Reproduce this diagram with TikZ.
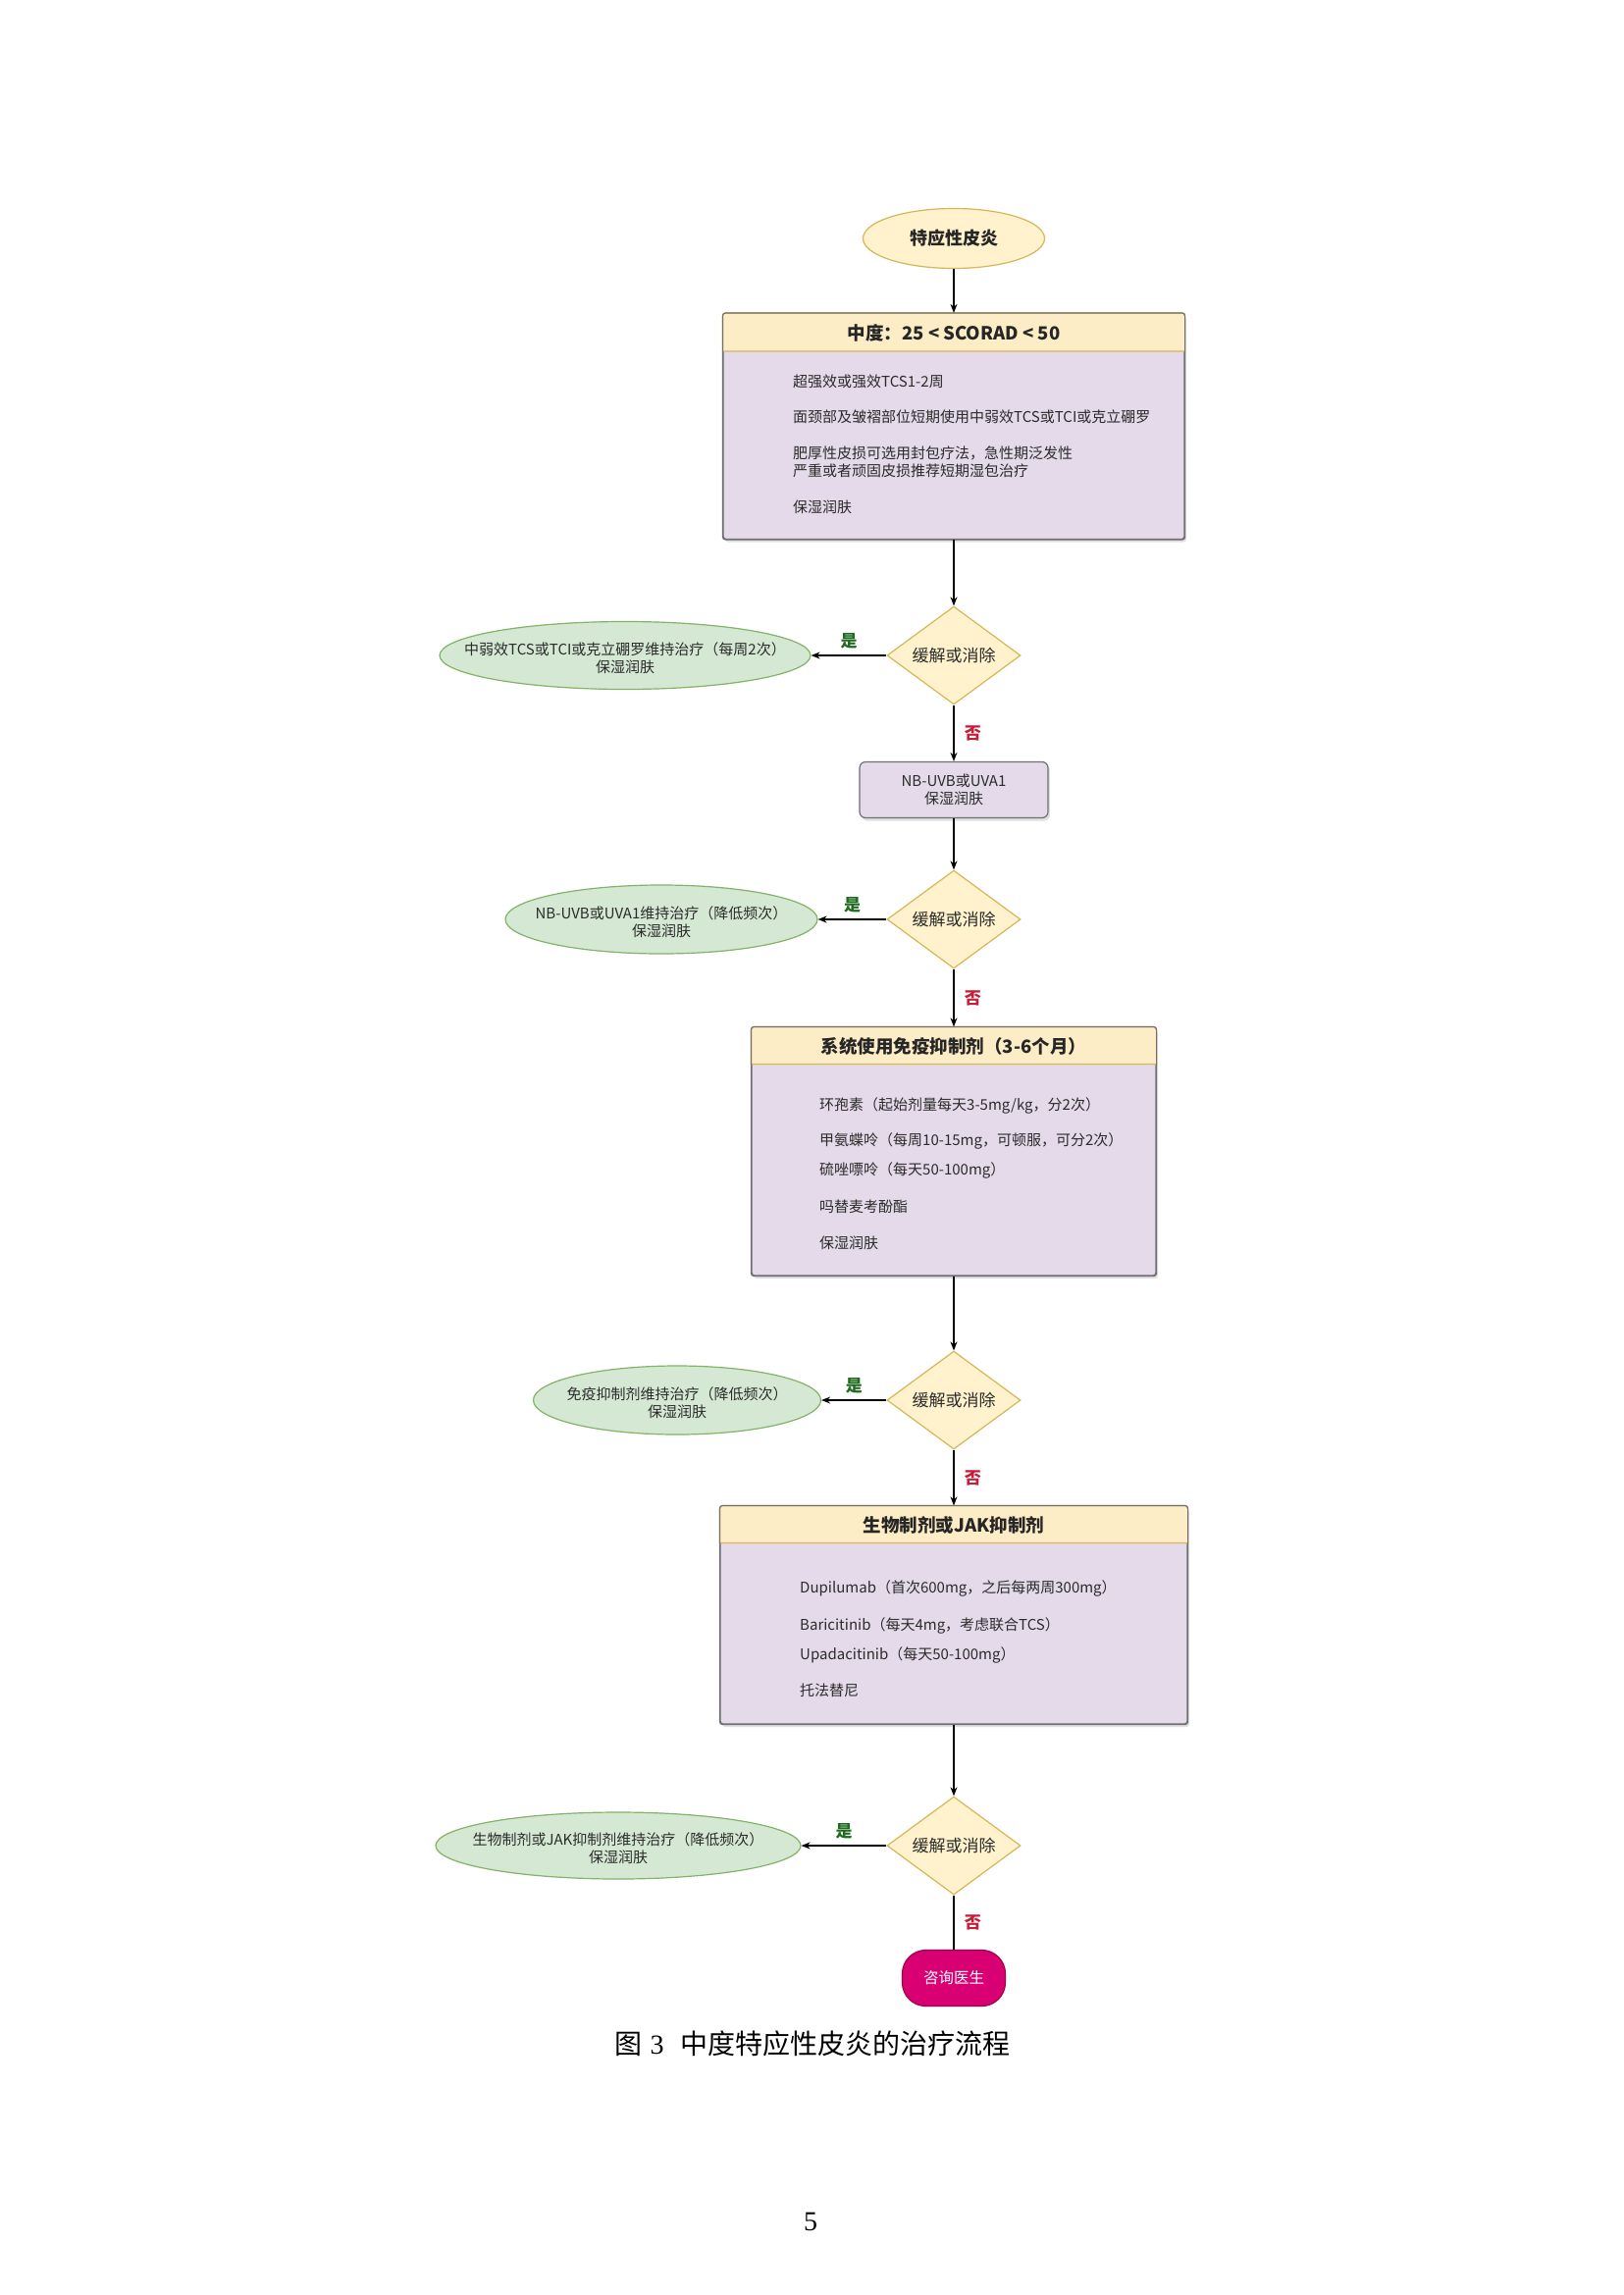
\documentclass[tikz,border=0pt]{standalone}
\usepackage{fontspec}
\setmainfont{Noto Sans CJK SC}
\newfontfamily\serifnum{Liberation Serif}
\usetikzlibrary{shapes.geometric,arrows.meta,shadows}
\definecolor{ylfill}{HTML}{FFF2CC}
\definecolor{ylline}{HTML}{D6B656}
\definecolor{hdfill}{HTML}{FCEDC6}
\definecolor{lvfill}{HTML}{E4DAEA}
\definecolor{bxline}{HTML}{707070}
\definecolor{grfill}{HTML}{D5E8D4}
\definecolor{grline}{HTML}{82B366}
\definecolor{mgfill}{HTML}{D80073}
\definecolor{mgline}{HTML}{A50040}
\definecolor{yesc}{HTML}{1F6B1F}
\definecolor{noc}{HTML}{C41E3A}
\definecolor{txt}{HTML}{2B2B2B}
\tikzset{
  every node/.append style={text=txt},
  arr/.style={draw=black, line width=1.3pt, -{Stealth[length=9pt,width=7pt]}},
  plainline/.style={draw=black, line width=1.3pt},
  startnode/.style={ellipse, draw=ylline, fill=ylfill, line width=1.2pt, minimum width=185pt, minimum height=61pt, inner sep=0pt, font=\fontsize{18}{22}\selectfont\bfseries, text=black!85},
  bigbox/.style={rectangle, rounded corners=3pt, draw=bxline, fill=lvfill, line width=1.2pt, inner sep=0pt, drop shadow={opacity=0.25,shadow xshift=2pt,shadow yshift=-3pt}},
  hdtext/.style={font=\fontsize{18.5}{22}\selectfont\bfseries, text=black!85, inner sep=0pt},
  bodytext/.style={anchor=west, inner sep=0pt, font=\fontsize{15}{18}\selectfont},
  decide/.style={diamond, shape aspect=1.36, draw=ylline, fill=ylfill, line width=1.2pt, inner sep=0pt, minimum width=136pt, minimum height=100pt, font=\fontsize{17}{20}\selectfont},
  keep/.style={ellipse, draw=grline, fill=grfill, line width=1.2pt, inner sep=0pt},
  keeptext/.style={align=center, inner sep=0pt, font=\fontsize{15}{18}\selectfont},
  smallbox/.style={rectangle, rounded corners=6pt, draw=bxline, fill=lvfill, line width=1.2pt, minimum width=192pt, minimum height=57pt, inner sep=0pt, align=center, font=\fontsize{15}{18}\selectfont, drop shadow={opacity=0.25,shadow xshift=2pt,shadow yshift=-3pt}},
  doctor/.style={rectangle, rounded corners=24pt, draw=mgline, fill=mgfill, line width=1.2pt, minimum width=105pt, minimum height=57pt, inner sep=0pt, text=white, font=\fontsize{15.5}{18}\selectfont},
  yeslab/.style={font=\fontsize{17}{20}\selectfont\bfseries, text=yesc},
  nolab/.style={font=\fontsize{17}{20}\selectfont\bfseries, text=noc},
}
\newcommand{\headerband}[2]{%
  \filldraw[fill=hdfill, draw=ylline, line width=1.2pt] ([yshift=-#2]#1.north west) [rounded corners=3pt] -- (#1.north west) -- (#1.north east) [sharp corners] -- ([yshift=-#2]#1.north east) -- cycle;
  \draw[bxline, line width=1.2pt, rounded corners=3pt] (#1.north west) rectangle (#1.south east);
}
\begin{document}
\begin{tikzpicture}[x=1pt,y=-1pt]
\useasboundingbox[fill=white] (0,0) rectangle (1654,2339);

% start
\node[startnode] (start) at (972,243) {特应性皮炎};

% box 1
\node[bigbox, minimum width=470pt, minimum height=230pt] (b1) at (972,434.5) {};
\headerband{b1}{39pt}
\node[hdtext] (b1h) at ([yshift=-20pt]b1.north) {中度：25 < SCORAD < 50};
\node[bodytext] (b1a) at (808,389) {超强效或强效TCS1-2周};
\node[bodytext] (b1b) at (808,425) {面颈部及皱褶部位短期使用中弱效TCS或TCI或克立硼罗};
\node[bodytext] (b1c) at (808,462) {肥厚性皮损可选用封包疗法，急性期泛发性};
\node[bodytext] (b1d) at (808,480) {严重或者顽固皮损推荐短期湿包治疗};
\node[bodytext] (b1e) at (808,517) {保湿润肤};

% decision 1
\node[decide] (d1) at (972,668) {缓解或消除};
\node[keep, minimum width=378pt, minimum height=69pt] (g1) at (637,668) {};
\node[keeptext] (g1t) at (637,671) {中弱效TCS或TCI或克立硼罗维持治疗（每周2次）\\保湿润肤};

% box 2
\node[smallbox] (b2) at (972,805) {NB-UVB或UVA1\\保湿润肤};

% decision 2
\node[decide] (d2) at (972,937) {缓解或消除};
\node[keep, minimum width=318pt, minimum height=70pt] (g2) at (674,937) {};
\node[keeptext] (g2t) at (674,940) {NB-UVB或UVA1维持治疗（降低频次）\\保湿润肤};

% box 3
\node[bigbox, minimum width=412pt, minimum height=253pt] (b3) at (972,1173.5) {};
\headerband{b3}{38pt}
\node[hdtext] (b3h) at ([yshift=-20pt]b3.north) {系统使用免疫抑制剂（3-6个月）};
\node[bodytext] (b3a) at (835,1127) {环孢素（起始剂量每天3-5mg/kg，分2次）};
\node[bodytext] (b3b) at (835,1163) {甲氨蝶呤（每周10-15mg，可顿服，可分2次）};
\node[bodytext] (b3c) at (835,1193) {硫唑嘌呤（每天50-100mg）};
\node[bodytext] (b3d) at (835,1230) {吗替麦考酚酯};
\node[bodytext] (b3e) at (835,1267) {保湿润肤};

% decision 3
\node[decide] (d3) at (972,1427) {缓解或消除};
\node[keep, minimum width=293pt, minimum height=70pt] (g3) at (690,1427) {};
\node[keeptext] (g3t) at (690,1430) {免疫抑制剂维持治疗（降低频次）\\保湿润肤};

% box 4
\node[bigbox, minimum width=476pt, minimum height=222pt] (b4) at (972,1646) {};
\headerband{b4}{38pt}
\node[hdtext] (b4h) at ([yshift=-20pt]b4.north) {生物制剂或JAK抑制剂};
\node[bodytext] (b4a) at (815,1619) {Dupilumab（首次600mg，之后每两周300mg）};
\node[bodytext] (b4b) at (815,1657) {Baricitinib（每天4mg，考虑联合TCS）};
\node[bodytext] (b4c) at (815,1687) {Upadacitinib（每天50-100mg）};
\node[bodytext] (b4d) at (815,1723) {托法替尼};

% decision 4
\node[decide] (d4) at (972,1881) {缓解或消除};
\node[keep, minimum width=372pt, minimum height=68pt] (g4) at (630,1881) {};
\node[keeptext] (g4t) at (630,1884) {生物制剂或JAK抑制剂维持治疗（降低频次）\\保湿润肤};

% doctor
\node[doctor] (doc) at (972,2016) {咨询医生};

% connectors
\draw[arr] (start) -- (b1);
\draw[arr] (b1.south) -- (d1.north);
\draw[arr] (d1.west) -- node[yeslab, above=3pt] {是} (g1.east);
\draw[arr] (d1.south) -- node[nolab, right=7pt] {否} (b2.north);
\draw[arr] (b2.south) -- (d2.north);
\draw[arr] (d2.west) -- node[yeslab, above=3pt] {是} (g2.east);
\draw[arr] (d2.south) -- node[nolab, right=7pt] {否} (b3.north);
\draw[arr] (b3.south) -- (d3.north);
\draw[arr] (d3.west) -- node[yeslab, above=3pt] {是} (g3.east);
\draw[arr] (d3.south) -- node[nolab, right=7pt] {否} (b4.north);
\draw[arr] (b4.south) -- (d4.north);
\draw[arr] (d4.west) -- node[yeslab, above=3pt] {是} (g4.east);
\draw[plainline] (d4.south) -- node[nolab, right=7pt] {否} (doc.north);

% caption and page number
\node[inner sep=0pt, text=black, font=\fontsize{28}{32}\selectfont] (cap) at (828,2083) {图\hspace{8pt}{\serifnum 3}\hspace{17pt}中度特应性皮炎的治疗流程};
\node[inner sep=0pt, text=black, font=\serifnum\fontsize{28}{32}\selectfont] (pg) at (826,2264) {5};
\end{tikzpicture}
\end{document}
